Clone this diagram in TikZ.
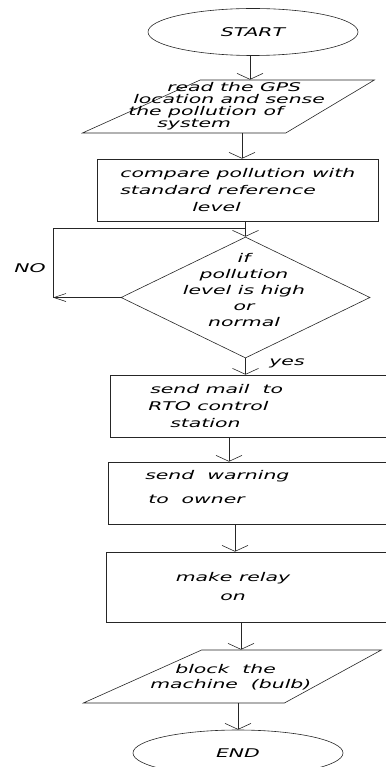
\documentclass[tikz,border=0pt]{standalone}
\usepackage{fontspec}
\setmainfont{DejaVu Sans}[FakeStretch=1.7, ItalicFont={DejaVu Sans Oblique}]
\usetikzlibrary{
  % ellipse, diamond and trapezium
  shapes.geometric,%
  arrows.meta,%
  positioning,%
  calc
}
\tikzset{>={Straight Barb[length=6pt,width=26pt]}}
\tikzset{font=\itshape\fontsize{12}{15}\selectfont}
\tikzset{
  terminal/.style={ellipse, draw, minimum width=210pt, minimum height=47pt, inner sep=0pt},
  process/.style={rectangle, draw, inner sep=0pt},
  io/.style={trapezium, draw, trapezium stretches=true, inner sep=1pt},
  decision/.style={diamond, draw, inner sep=1pt},
  caption/.style={align=left, anchor=west, inner sep=0pt}
}

\begin{document}
\begin{tikzpicture}[x=1pt, y=-1pt, line width=0.6pt, draw=black!85]
  \useasboundingbox (0,0) rectangle (385,767);
  % shapes
  \node[terminal] (start) at (253,32) {START};
  \node[io, trapezium left angle=36, trapezium right angle=136,
    minimum width=292pt, minimum height=53pt] (read) at (243,106.5) {};
  \node[process, minimum width=281pt, minimum height=62pt] (compare) at (237.5,190) {};
  \node[decision, minimum width=249pt, minimum height=121pt] (check) at (245.5,297.5) {};
  \node[process, minimum width=290pt, minimum height=62pt] (mail) at (255,406) {};
  \node[process, minimum width=292pt, minimum height=62pt] (warn) at (254,493) {};
  \node[process, minimum width=294pt, minimum height=70pt] (relay) at (253,587) {};
  \node[io, trapezium left angle=35, trapezium right angle=139.5,
    minimum width=298pt, minimum height=53pt] (block) at (243,676.5) {};
  \node[terminal, minimum height=46pt] (stop) at (238,753) {END};
  % texts
  \node[caption, font=\itshape\fontsize{12}{12}\selectfont] (readTxt) at (128,106)
    {\hspace*{39pt}read the GPS\\\hspace*{5pt}location and sense\\the pollution of\\\hspace*{29pt}system};
  \node[caption, font=\itshape\fontsize{12}{17}\selectfont] (compareTxt) at (120,190)
    {compare pollution with\\standard reference\\\hspace*{72pt}level};
  \node[caption, align=center, anchor=center, font=\itshape\fontsize{12}{16}\selectfont]
    (checkTxt) at (244,290) {if\\pollution\\level is high\\or\\normal};
  \node[caption, font=\itshape\fontsize{12}{17}\selectfont] (mailTxt) at (148,406)
    {\hspace*{2pt}send mail\ \ to\\RTO control\\\hspace*{22pt}station};
  \node[caption, font=\itshape\fontsize{12}{24}\selectfont] (warnTxt) at (145,487)
    {send\ \ warning\\\hspace*{3pt}to\ \ owner};
  \node[caption, align=center, anchor=center, font=\itshape\fontsize{12}{19}\selectfont]
    (relayTxt) at (233,587) {make relay\\on};
  \node[caption, font=\itshape\fontsize{12}{15}\selectfont] (blockTxt) at (150,677)
    {\hspace*{25pt}block\ \ the\\machine\ \ (bulb)};
  \node[caption, anchor=center] (yesTxt) at (287,363) {yes};
  \node[caption, anchor=center] (noTxt) at (30,268) {NO};
  % connectors
  \coordinate (noUp) at (53,228);
  \coordinate (noDown) at (noUp |- check.west);
  \draw[->] ([xshift=-3pt]start.south) -- ([xshift=-3pt]start.south |- read.north);
  \draw[->] ([xshift=-1pt]read.south) -- ([xshift=-1pt]read.south |- compare.north);
  \draw[->] (check.north |- compare.south) -- (check.north);
  \draw[-{Straight Barb[length=12pt,width=8pt]}] (check.west) -- (noDown);
  \draw (noDown) -- (noUp) -- (check.north |- noUp);
  \draw[->] (check.south) -- (check.south |- mail.north);
  \draw[->] ([xshift=-26pt]mail.south) -- ([xshift=-26pt]mail.south |- warn.north);
  \draw[->] ([xshift=-19pt]warn.south) -- ([xshift=-19pt]warn.south |- relay.north);
  \draw[->] ([xshift=-12pt]relay.south) -- ([xshift=-12pt]relay.south |- block.north);
  \draw[->] (stop.north |- block.south) -- (stop.north);
\end{tikzpicture}
\end{document}
